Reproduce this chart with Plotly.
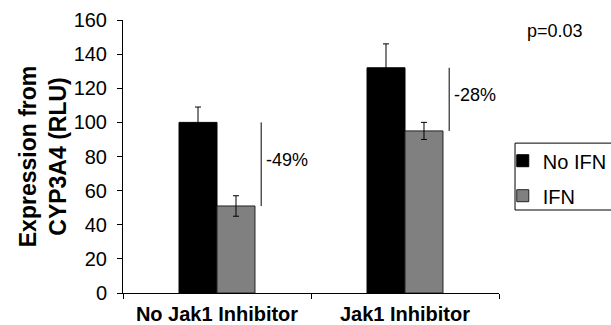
import plotly.graph_objects as go

# CYP3A4 reporter expression (RLU), with and without IFN, +/- Jak1 inhibitor
groups = ["No Jak1 Inhibitor", "Jak1 Inhibitor"]
no_ifn = [100, 132]
no_ifn_err = [9, 14]
ifn = [51, 95]
ifn_err = [6, 5]
y_ticks = [0, 20, 40, 60, 80, 100, 120, 140, 160]
p_value = "p=0.03"

FONT = "Arial, Liberation Sans, sans-serif"

fig = go.Figure()
fig.add_trace(go.Bar(
    x=groups, y=no_ifn, name="No IFN", legendgroup="a",
    marker=dict(color="black", line=dict(color="black", width=1)),
    error_y=dict(type="data", array=no_ifn_err, color="black", thickness=1, width=3),
))
fig.add_trace(go.Bar(
    x=groups, y=ifn, name="IFN", legendgroup="b",
    marker=dict(color="#808080", line=dict(color="#222222", width=1)),
    error_y=dict(type="data", array=ifn_err, color="black", thickness=1, width=3),
))

# Bracket line and percent change beside each pair of bars
for i, (a, b) in enumerate(zip(no_ifn, ifn)):
    xpos = i + 0.235
    fig.add_shape(type="line", xref="x", yref="y", x0=xpos, x1=xpos, y0=a, y1=b,
                  line=dict(color="black", width=1))
    pct = round((b - a) / a * 100)
    fig.add_annotation(x=xpos, y=(a + b) / 2, xref="x", yref="y", text=f"{pct}%",
                       showarrow=False, xanchor="left", yanchor="middle", xshift=3, yshift=4,
                       font=dict(family=FONT, size=18, color="black"))

fig.add_annotation(x=1.069, y=0.96, xref="paper", yref="paper", text=p_value,
                   showarrow=False, xanchor="left", yanchor="middle",
                   font=dict(family=FONT, size=18, color="black"))

# Legend frame (open on the right, running past the page edge)
fig.add_shape(type="rect", xref="paper", yref="paper",
              x0=1.0426, x1=1.4, y0=0.304, y1=0.549,
              line=dict(color="black", width=1), fillcolor="rgba(0,0,0,0)")

fig.update_layout(
    width=611, height=325,
    margin=dict(l=123, r=112, t=20, b=32, autoexpand=False),
    plot_bgcolor="white", paper_bgcolor="white",
    barmode="group", bargap=0.596, bargroupgap=0,
    font=dict(family=FONT, color="black"),
    legend=dict(x=1.01, xanchor="left", y=0.556, yanchor="top",
                borderwidth=0, bgcolor="rgba(0,0,0,0)",
                font=dict(family=FONT, size=20, color="black"),
                tracegroupgap=6, itemwidth=30),
    xaxis=dict(type="category", tickson="boundaries", ticks="outside", ticklen=5,
               tickcolor="black", showline=True, linecolor="black", linewidth=1,
               tickfont=dict(family=FONT, size=20, weight="bold"),
               ticklabelstandoff=3),
    yaxis=dict(range=[0, 160], tickvals=y_ticks, ticks="outside", ticklen=5,
               tickcolor="black", showline=True, linecolor="black", linewidth=1,
               showgrid=False, zeroline=False,
               tickfont=dict(family=FONT, size=20),
               ticklabelstandoff=6,
               title=dict(text="<b>Expression from<br>CYP3A4 (RLU)</b>",
                          font=dict(family=FONT, size=23), standoff=0)),
)

fig.write_html("out.html")
